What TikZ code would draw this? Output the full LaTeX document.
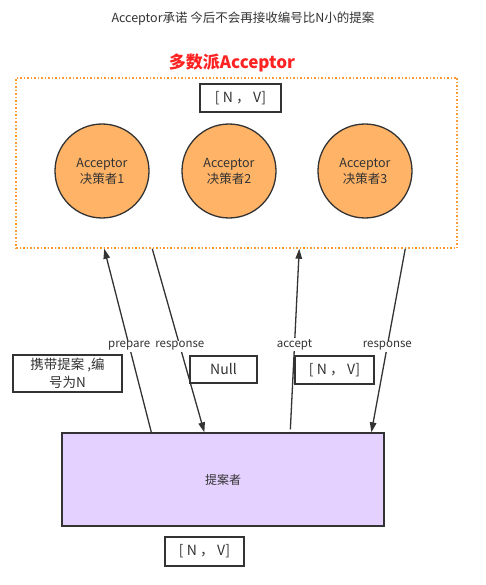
\documentclass[tikz,border=0pt]{standalone}
\usepackage{fontspec}
\setmainfont{Noto Sans CJK SC}
\usepackage{tikz}
\usepackage{xcolor}
\usetikzlibrary{arrows.meta,calc}
\definecolor{inkgray}{HTML}{333333}
\definecolor{dotorange}{HTML}{FF9933}
\definecolor{acorange}{HTML}{FFB366}
\definecolor{proplilac}{HTML}{E5D1FF}
\definecolor{majred}{HTML}{FF2222}

\begin{document}
\begin{tikzpicture}[
  x=1pt, y=-1pt,
  every node/.style={text=inkgray},
  valbox/.style={draw=inkgray, line width=1.2pt, fill=white, align=center,
  font=\fontsize{14}{18}\selectfont, inner sep=0pt},
  accbox/.style={circle, draw=inkgray, line width=1.3pt, fill=acorange,
  minimum size=94pt, align=center, font=\fontsize{12.5}{16}\selectfont},
  msg/.style={fill=white, inner sep=1pt, font=\fontsize{11.5}{13}\selectfont},
  arrow/.style={-{Triangle[length=10pt,width=6.5pt]}, line width=1.3pt, draw=inkgray}
]
\useasboundingbox (0,0) rectangle (485,585);

\node[font=\fontsize{12.5}{15}\selectfont] (title) at (243,19) {Acceptor承诺 今后不会再接收编号比N小的提案};
\node[font=\bfseries\fontsize{17}{20}\selectfont, text=majred] (majority) at (232,63) {多数派Acceptor};

% acceptor group
\node[draw=dotorange, dotted, line width=1.5pt, minimum width=441pt, minimum height=170pt] (acc) at (236.5,163) {};
\node[valbox, minimum width=81pt, minimum height=28pt] (nvtop) at (240.5,98) {[ N ， V]};
\node[accbox] (acc1) at (102,171) {Acceptor\\决策者1};
\node[accbox] (acc2) at (229,171) {Acceptor\\决策者2};
\node[accbox] (acc3) at (365,171) {Acceptor\\决策者3};

% proposer
\node[draw=inkgray, line width=1.3pt, fill=proplilac, minimum width=322pt, minimum height=93pt,
  font=\fontsize{12}{14}\selectfont] (prop) at (223,479.5) {提案者};
\node[valbox, minimum width=79pt, minimum height=29pt] (nvbottom) at (204.5,551.5) {[ N ， V]};

% messages
\draw[arrow] ($(prop.north west)+(90,0)$) -- node[msg, pos=0.47] (lblprepare) {prepare} ($(acc.south west)+(89,0)$);
\draw[arrow] ($(acc.south west)+(137,0)$) -- node[msg, pos=0.53] (lblresp1) {response} ($(prop.north west)+(143,0)$);
\draw[arrow] ($(prop.north west)+(229,-3)$) -- node[msg, pos=0.47] (lblaccept) {accept} ($(acc.south west)+(284,0)$);
\draw[arrow] ($(acc.south west)+(390,0)$) -- node[msg, pos=0.53] (lblresp2) {response} ($(prop.north west)+(310,0)$);

\node[valbox, minimum width=109pt, minimum height=37pt, font=\fontsize{13.5}{18}\selectfont] (carry) at (67.5,373.5) {携带提案 ,编\\号为N};
\node[valbox, minimum width=67pt, minimum height=27pt] (null) at (223.5,369.5) {Null};
\node[valbox, minimum width=79pt, minimum height=28pt] (nvmid) at (334.5,370) {[ N ， V]};
\end{tikzpicture}
\end{document}
